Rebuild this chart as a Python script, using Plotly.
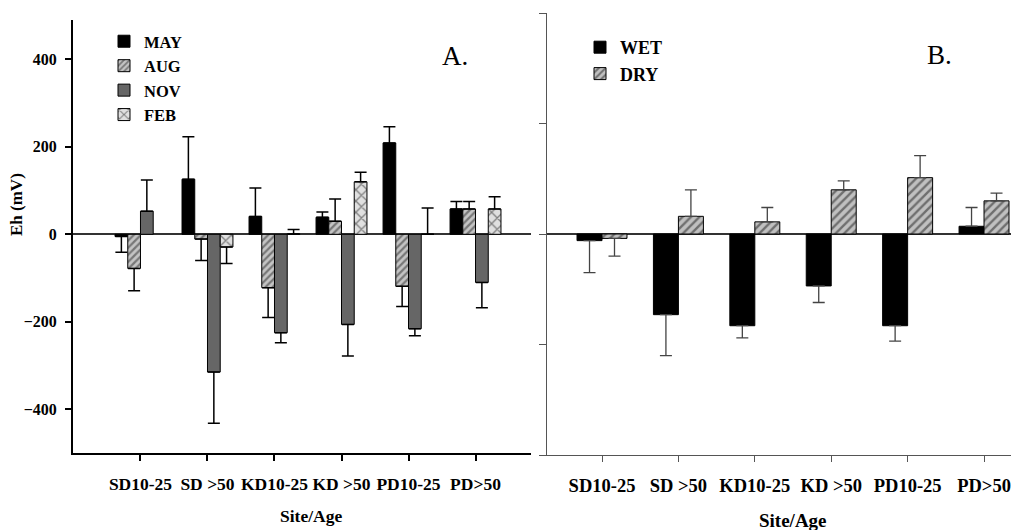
import plotly.graph_objects as go

# ---------------- data ----------------
sites = ["SD10-25", "SD >50", "KD10-25", "KD >50", "PD10-25", "PD>50"]

# Panel A (monthly Eh, mV)
may = [-5, 126, 41, 39, 209, 58]
may_err = [36, 97, 65, 12, 37, 17]
aug = [-78, -11, -122, 30, -119, 58]
aug_err = [51, 49, 68, 51, 46, 17]
nov = [53, -315, -225, -206, -216, -110]
nov_err = [71, 117, 23, 72, 16, 58]
feb = [None, -29, 1, 120, 0, 58]
feb_err = [0, 38, 10, 22, 60, 28]

# Panel B (seasonal Eh, mV)
wet = [-6, -73, -83, -47, -83, 7]
wet_err = [29, 37, 11, 15, 14, 17]
dry = [-4, 16, 11, 40, 51, 30]
dry_err = [16, 24, 13, 8, 20, 7]

yticks_a = [-400, -200, 0, 200, 400]
yticks_b = [-200, -100, 0, 100, 200]

FONT = "Liberation Serif, Times New Roman, serif"


def err(vals, e):
    up = [(x if (v is not None and v >= 0) else 0) for v, x in zip(vals, e)]
    dn = [(x if (v is not None and v < 0) else 0) for v, x in zip(vals, e)]
    return up, dn


fig = go.Figure()

# ---------- panel A ----------
wA = 0.19
seriesA = [
    ("MAY", may, may_err, dict(color="black"), -2 * wA),
    ("AUG", aug, aug_err, dict(color="#c4c4c4",
                               pattern=dict(shape="/", bgcolor="#c4c4c4", fgcolor="#2a2a2a",
                                            size=5, solidity=0.45)), -wA),
    ("NOV", nov, nov_err, dict(color="#666666"), 0.0),
    ("FEB", feb, feb_err, dict(color="#e0e0e0",
                               pattern=dict(shape="x", bgcolor="#e0e0e0", fgcolor="#1a1a1a",
                                            size=8, solidity=0.3)), wA),
]
for name, vals, e, mk, off in seriesA:
    up, dn = err(vals, e)
    mk = dict(mk)
    mk["line"] = dict(color="black", width=1)
    fig.add_trace(go.Bar(
        x=sites, y=vals, name=name, width=wA, offset=off,
        marker=mk, xaxis="x", yaxis="y", legend="legend",
        error_y=dict(type="data", symmetric=False, array=up, arrayminus=dn,
                     color="black", thickness=1.5, width=6),
    ))

# ---------- panel B ----------
wB = 0.327
seriesB = [
    ("WET", wet, wet_err, dict(color="black"), -wB),
    ("DRY", dry, dry_err, dict(color="#c0c0c0",
                               pattern=dict(shape="/", bgcolor="#c0c0c0", fgcolor="#1e1e1e",
                                            size=6, solidity=0.4)), 0.0),
]
for name, vals, e, mk, off in seriesB:
    up, dn = err(vals, e)
    mk = dict(mk)
    mk["line"] = dict(color="black", width=1)
    fig.add_trace(go.Bar(
        x=sites, y=vals, name=name, width=wB, offset=off,
        marker=mk, xaxis="x2", yaxis="y2", legend="legend2",
        error_y=dict(type="data", symmetric=False, array=up, arrayminus=dn,
                     color="#444444", thickness=1.3, width=6),
    ))

W, H = 1011, 530


def ann(text, x, y, size, bold=True, angle=0):
    f = dict(family=FONT, size=size, color="black")
    if bold:
        f["weight"] = "bold"
    return dict(text=text, x=x / W, y=1 - y / H, xref="paper", yref="paper",
                xanchor="center", yanchor="middle", showarrow=False,
                textangle=angle, font=f)


fig.update_layout(
    width=W, height=H,
    margin=dict(l=0, r=0, t=0, b=0),
    paper_bgcolor="white", plot_bgcolor="white",
    barmode="overlay",
    font=dict(family=FONT, color="black"),
    xaxis=dict(domain=[73 / W, 531 / W], range=[-1.007, 5.828], type="category",
               showline=True, linecolor="black", linewidth=2, ticks="outside",
               ticklen=6, tickwidth=1.5, tickcolor="black", showgrid=False,
               tickfont=dict(family=FONT, size=17.5, weight="bold"),
               ticklabelstandoff=8, anchor="y"),
    yaxis=dict(domain=[1 - 453 / H, 1 - 20 / H], range=[-500, 490],
               tickvals=yticks_a, showline=True, linecolor="black", linewidth=2,
               ticks="outside", ticklen=6, tickwidth=1.5, tickcolor="black",
               showgrid=False, zeroline=True, zerolinecolor="#333333", zerolinewidth=1.5,
               tickfont=dict(family=FONT, size=16, weight="bold"),
               ticklabelstandoff=5, anchor="x"),
    xaxis2=dict(domain=[547 / W, 1.0], range=[-0.72, 5.353], type="category",
                showline=True, linecolor="#555555", linewidth=1, ticks="outside",
                ticklen=6, tickwidth=1, tickcolor="#555555", showgrid=False,
                tickfont=dict(family=FONT, size=18.5, weight="bold"),
                ticklabelstandoff=8, anchor="y2"),
    yaxis2=dict(domain=[1 - 455 / H, 1 - 13 / H], range=[-200, 200],
                tickvals=yticks_b, showticklabels=False, showline=True,
                linecolor="#555555", linewidth=1, ticks="outside", ticklen=7,
                tickwidth=1, tickcolor="#555555", showgrid=False, zeroline=True,
                zerolinecolor="#333333", zerolinewidth=1.5, anchor="x2"),
    legend=dict(x=104 / W, y=1 - 24 / H, xanchor="left", yanchor="top",
                bgcolor="rgba(0,0,0,0)", font=dict(family=FONT, size=16.5, weight="bold"),
                tracegroupgap=0, itemwidth=30),
    legend2=dict(x=580 / W, y=1 - 29 / H, xanchor="left", yanchor="top",
                 bgcolor="rgba(0,0,0,0)", font=dict(family=FONT, size=18, weight="bold"),
                 tracegroupgap=0, itemwidth=30),
    annotations=[
        ann("A.", 455, 56, 27, bold=False),
        ann("B.", 939, 55, 27, bold=False),
        ann("Site/Age", 311, 516, 17.5),
        ann("Site/Age", 793, 520, 19),
        ann("Eh (mV)", 16, 205, 17, angle=-90),
    ],
)

fig.write_html("out.html")
